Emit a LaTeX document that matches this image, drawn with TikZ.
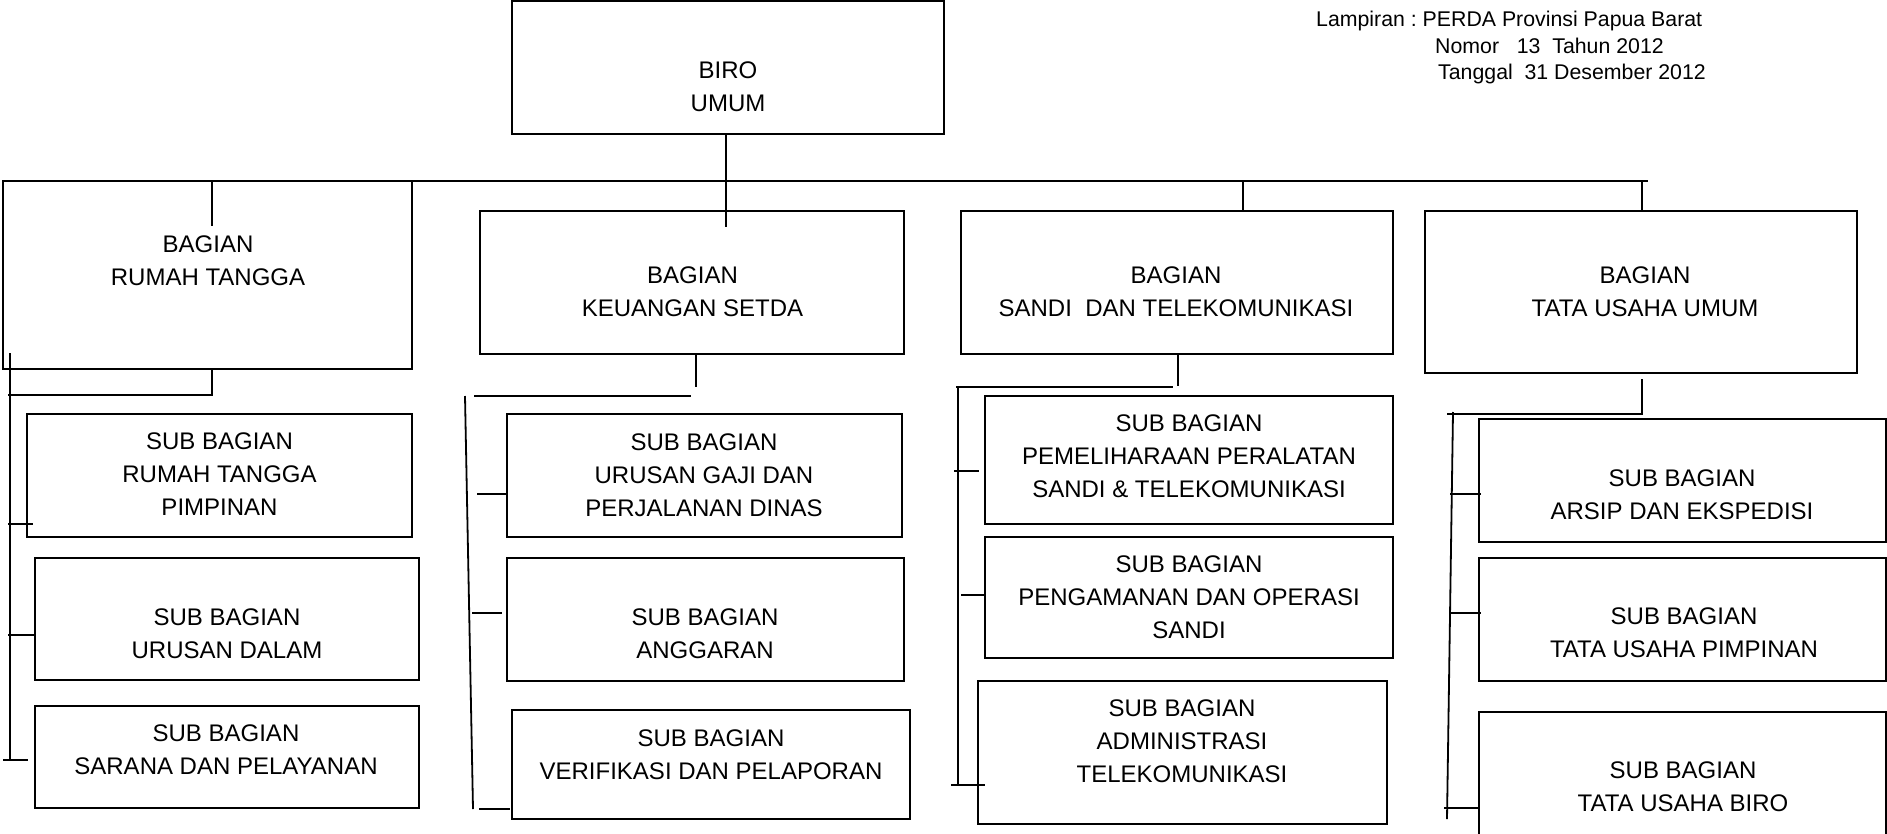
\documentclass[tikz,border=0pt]{standalone}
\usepackage{fontspec}
\setmainfont{Liberation Sans}
\usetikzlibrary{fit}
\frenchspacing
\begin{document}
\begin{tikzpicture}[x=1pt,y=-1pt,
  box/.style={draw, line width=1.7pt, inner sep=0pt},
  lbl/.style={align=center, font=\fontsize{24}{33}\selectfont, inner sep=0pt},
  conn/.style={line width=1.8pt},
  hdr/.style={anchor=base west, font=\fontsize{21.3}{26}\selectfont, inner sep=0pt}]
\useasboundingbox (0,0) rectangle (1887,833);
\clip (0,0) rectangle (1887,833);
\fill[white] (0,0) rectangle (1887,833);

% header
\node[hdr] (h1) at (1316,26) {Lampiran : PERDA Provinsi Papua Barat};
\node[hdr] (h2) at (1435,53) {Nomor\ \ \ 13\ \ Tahun 2012};
\node[hdr] (h3) at (1438,79) {Tanggal\ \ 31 Desember 2012};

% boxes
\node[box, fit={(512,1) (944,134)}] (biro) {};
\node[box, fit={(3,181) (412,369)}] (rt) {};
\node[box, fit={(480,211) (904,354)}] (ks) {};
\node[box, fit={(961,211) (1393,354)}] (st) {};
\node[box, fit={(1425,211) (1857,373)}] (tu) {};
\node[box, fit={(27,414) (412,537)}] (rt1) {};
\node[box, fit={(35,558) (419,680)}] (rt2) {};
\node[box, fit={(35,706) (419,808)}] (rt3) {};
\node[box, fit={(507,414) (902,537)}] (ks1) {};
\node[box, fit={(507,558) (904,681)}] (ks2) {};
\node[box, fit={(512,710) (910,819)}] (ks3) {};
\node[box, fit={(985,396) (1393,524)}] (st1) {};
\node[box, fit={(985,537) (1393,658)}] (st2) {};
\node[box, fit={(978,681) (1387,824)}] (st3) {};
\node[box, fit={(1479,419) (1886,542)}] (tu1) {};
\node[box, fit={(1479,558) (1886,681)}] (tu2) {};
\node[box, fit={(1479,712) (1886,860)}] (tu3) {};

% labels
\node[lbl] (tbiro) at (728,86.5) {BIRO\\UMUM};
\node[lbl] (trt) at (208,260.5) {BAGIAN\\RUMAH TANGGA};
\node[lbl] (tks) at (692.5,292) {BAGIAN\\KEUANGAN SETDA};
\node[lbl] (tst) at (1176,291.5) {BAGIAN\\SANDI\ \ DAN TELEKOMUNIKASI};
\node[lbl] (ttu) at (1645,291.5) {BAGIAN\\TATA USAHA UMUM};
\node[lbl] (trt1) at (219.5,474.5) {SUB BAGIAN\\RUMAH TANGGA\\PIMPINAN};
\node[lbl] (trt2) at (227,634) {SUB BAGIAN\\URUSAN DALAM};
\node[lbl] (trt3) at (226,749.5) {SUB BAGIAN\\SARANA DAN PELAYANAN};
\node[lbl] (tks1) at (704,475) {SUB BAGIAN\\URUSAN GAJI DAN\\PERJALANAN DINAS};
\node[lbl] (tks2) at (705,633.5) {SUB BAGIAN\\ANGGARAN};
\node[lbl] (tks3) at (711,755) {SUB BAGIAN\\VERIFIKASI DAN PELAPORAN};
\node[lbl] (tst1) at (1189,456) {SUB BAGIAN\\PEMELIHARAAN PERALATAN\\SANDI \& TELEKOMUNIKASI};
\node[lbl] (tst2) at (1189,597.5) {SUB BAGIAN\\PENGAMANAN DAN OPERASI\\SANDI};
\node[lbl] (tst3) at (1182,741.5) {SUB BAGIAN\\ADMINISTRASI\\TELEKOMUNIKASI};
\node[lbl] (ttu1) at (1682,495) {SUB BAGIAN\\ARSIP DAN EKSPEDISI};
\node[lbl] (ttu2) at (1684,633) {SUB BAGIAN\\TATA USAHA PIMPINAN};
\node[lbl] (ttu3) at (1683,787) {SUB BAGIAN\\TATA USAHA BIRO};

% connector points
\coordinate (bEnd) at (726,227);
\coordinate (busL) at (3,181);
\coordinate (busR) at (1648,181);
\coordinate (t1a) at (212,181); \coordinate (t1b) at (212,226);
\coordinate (t3a) at (1243,181);
\coordinate (t4a) at (1642,181);

% top level
\draw[conn] (biro.south -| bEnd) -- (bEnd);
\draw[conn] (busL) -- (busR);
\draw[conn] (t1a) -- (t1b);
\draw[conn] (t3a) -- (t3a |- st.north);
\draw[conn] (t4a) -- (t4a |- tu.north);

% column 1
\coordinate (c1a) at (212,395); \coordinate (c1b) at (8,395);
\coordinate (c1t) at (10,353); \coordinate (c1u) at (10,760);
\draw[conn] (c1a |- rt.south) -- (c1a) -- (c1b);
\draw[conn] (c1t) -- (c1u);
\coordinate (k11) at (8,524); \coordinate (k12) at (33,524);
\coordinate (k21) at (8,635); \coordinate (k22) at (35,635);
\coordinate (k31) at (3,760); \coordinate (k32) at (28,760);
\draw[conn] (k11) -- (k12);
\draw[conn] (k21) -- (k22);
\draw[conn] (k31) -- (k32);

% column 2
\coordinate (c2a) at (696,387);
\coordinate (c2h1) at (474,396); \coordinate (c2h2) at (691,396);
\coordinate (c2t) at (465,396); \coordinate (c2u) at (473,809);
\draw[conn] (c2a |- ks.south) -- (c2a);
\draw[conn] (c2h1) -- (c2h2);
\draw[conn] (c2t) -- (c2u);
\coordinate (m11) at (477,494); \coordinate (m12) at (507,494);
\coordinate (m21) at (472,613); \coordinate (m22) at (502,613);
\coordinate (m31) at (479,809); \coordinate (m32) at (510,809);
\draw[conn] (m11) -- (m12);
\draw[conn] (m21) -- (m22);
\draw[conn] (m31) -- (m32);

% column 3
\coordinate (c3a) at (1178,386);
\coordinate (c3h1) at (956,387); \coordinate (c3h2) at (1173,387);
\coordinate (c3t) at (958,387); \coordinate (c3u) at (958,785);
\draw[conn] (c3a |- st.south) -- (c3a);
\draw[conn] (c3h1) -- (c3h2);
\draw[conn] (c3t) -- (c3u);
\coordinate (n11) at (954,471); \coordinate (n12) at (979,471);
\coordinate (n21) at (961,595); \coordinate (n22) at (985,595);
\coordinate (n31) at (951,785); \coordinate (n32) at (985,785);
\draw[conn] (n11) -- (n12);
\draw[conn] (n21) -- (n22);
\draw[conn] (n31) -- (n32);

% column 4
\coordinate (c4a) at (1642,379); \coordinate (c4b) at (1642,414);
\coordinate (c4h) at (1447,414);
\coordinate (c4t) at (1453,412); \coordinate (c4u) at (1447,819);
\draw[conn] (c4a) -- (c4b) -- (c4h);
\draw[conn] (c4t) -- (c4u);
\coordinate (p11) at (1450,494); \coordinate (p12) at (1481,494);
\coordinate (p21) at (1451,613); \coordinate (p22) at (1481,613);
\coordinate (p31) at (1444,808); \coordinate (p32) at (1479,808);
\draw[conn] (p11) -- (p12);
\draw[conn] (p21) -- (p22);
\draw[conn] (p31) -- (p32);
\end{tikzpicture}
\end{document}
